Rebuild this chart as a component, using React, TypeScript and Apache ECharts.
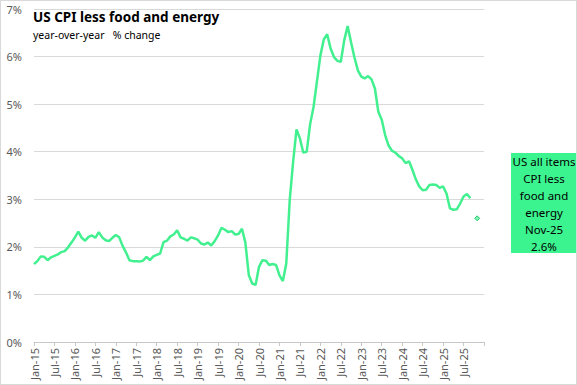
import React, { useEffect, useRef } from "react";
import * as echarts from "echarts";

const monthNames = ["Jan", "Feb", "Mar", "Apr", "May", "Jun", "Jul", "Aug", "Sep", "Oct", "Nov", "Dec"];
const years = [15, 16, 17, 18, 19, 20, 21, 22, 23, 24, 25];

// Core CPI year-over-year % change, by year (Jan..Dec)
const y2015 = [1.64, 1.70, 1.80, 1.79, 1.72, 1.78, 1.81, 1.84, 1.89, 1.91, 1.99, 2.09];
const y2016 = [2.20, 2.32, 2.19, 2.13, 2.21, 2.24, 2.19, 2.31, 2.20, 2.14, 2.12, 2.19];
const y2017 = [2.25, 2.20, 2.02, 1.88, 1.72, 1.70, 1.70, 1.69, 1.71, 1.79, 1.72, 1.80];
const y2018 = [1.83, 1.86, 2.10, 2.13, 2.22, 2.26, 2.35, 2.20, 2.17, 2.13, 2.20, 2.18];
const y2019 = [2.15, 2.07, 2.05, 2.09, 2.03, 2.12, 2.24, 2.40, 2.36, 2.31, 2.33, 2.26];
const y2020 = [2.27, 2.38, 2.09, 1.41, 1.23, 1.20, 1.58, 1.72, 1.71, 1.62, 1.64, 1.62];
const y2021 = [1.40, 1.28, 1.65, 2.97, 3.78, 4.47, 4.28, 3.98, 4.00, 4.58, 4.94, 5.48];
const y2022 = [6.02, 6.36, 6.47, 6.17, 5.99, 5.91, 5.89, 6.34, 6.64, 6.30, 5.98, 5.71];
const y2023 = [5.58, 5.54, 5.59, 5.52, 5.33, 4.84, 4.67, 4.35, 4.13, 4.02, 3.98, 3.91];
const y2024 = [3.86, 3.76, 3.80, 3.62, 3.42, 3.27, 3.19, 3.20, 3.30, 3.31, 3.30, 3.24];
const y2025 = [3.27, 3.12, 2.81, 2.78, 2.79, 2.91, 3.06, 3.11, 3.02, null, null, null];

const latestLabel = "Nov-25";
const latestValue = 2.6;
const extraCategory = "Jan-26";

const yTicks = [0, 1, 2, 3, 4, 5, 6, 7];

const categories: string[] = [];
years.forEach((y) => monthNames.forEach((m) => categories.push(`${m}-${y}`)));
categories.push(extraCategory);

const lineValues: (number | null)[] = [
  ...y2015, ...y2016, ...y2017, ...y2018, ...y2019, ...y2020,
  ...y2021, ...y2022, ...y2023, ...y2024, ...y2025, null,
];

const latestValues: (number | null)[] = categories.map((c) => (c === latestLabel ? latestValue : null));

const GREEN = "#42F090";
const BOX = "#3CF48F";
const FONT = "'Noto Sans', 'Open Sans', sans-serif";

export default function App() {
  const ref = useRef<HTMLDivElement>(null);
  useEffect(() => {
    if (!ref.current) return;
    const chart = echarts.init(ref.current, undefined, { renderer: "svg" });
    const lastShownLabel = categories.indexOf("Jul-25");
    chart.setOption({
      animation: false,
      backgroundColor: "#ffffff",
      grid: { left: 33, right: 92, top: 8, bottom: 42, containLabel: false },
      xAxis: {
        type: "category",
        data: categories,
        boundaryGap: false,
        axisLine: { show: true, lineStyle: { color: "#c8c8c8", width: 1 } },
        axisTick: {
          show: true,
          length: 4,
          interval: (i: number) => i % 6 === 0,
          lineStyle: { color: "#c8c8c8" },
        },
        axisLabel: {
          rotate: 90,
          interval: (i: number) => i % 6 === 0 && i <= lastShownLabel,
          color: "#595959",
          fontSize: 11,
          fontFamily: FONT,
          margin: 6,
        },
        splitLine: { show: false },
      },
      yAxis: {
        type: "value",
        min: yTicks[0],
        max: yTicks[yTicks.length - 1],
        interval: 1,
        axisLine: { show: false },
        axisTick: { show: false },
        axisLabel: {
          formatter: "{value}%",
          color: "#595959",
          fontSize: 11,
          fontFamily: FONT,
          margin: 12,
        },
        splitLine: { show: true, lineStyle: { color: "#d9d9d9", width: 1 } },
      },
      series: [
        {
          type: "line",
          data: lineValues,
          showSymbol: false,
          symbol: "none",
          connectNulls: false,
          lineStyle: { color: GREEN, width: 2.5 },
          itemStyle: { color: GREEN },
          z: 3,
        },
        {
          type: "line",
          data: latestValues,
          symbol: "diamond",
          symbolSize: 5,
          showSymbol: true,
          showAllSymbol: true,
          lineStyle: { width: 0 },
          itemStyle: { color: "#7CF5B0", borderColor: "#2DC873", borderWidth: 1 },
          z: 4,
        },
      ],
      graphic: [
        {
          type: "text",
          left: 32,
          top: 9,
          style: {
            text: "US CPI less food and energy",
            font: `bold 13.5px ${FONT}`,
            fill: "#000000",
          },
          z: 10,
        },
        {
          type: "text",
          left: 32,
          top: 28,
          style: {
            text: "year-over-year   % change",
            font: `10.5px ${FONT}`,
            fill: "#000000",
          },
          z: 10,
        },
        {
          type: "group",
          left: 510,
          top: 152,
          children: [
            {
              type: "rect",
              shape: { x: 0, y: 0, width: 66, height: 100 },
              style: { fill: BOX },
            },
            {
              type: "text",
              x: 33,
              y: 51,
              style: {
                text: `US all items\nCPI less\nfood and\nenergy\n${latestLabel}\n${latestValue.toFixed(1)}%`,
                font: `11.5px ${FONT}`,
                lineHeight: 17,
                fill: "#000000",
                align: "center",
                verticalAlign: "middle",
              },
            },
          ],
        },
      ],
    });
    return () => chart.dispose();
  }, []);
  return (
    <div
      style={{
        position: "absolute",
        left: 0,
        top: 0,
        width: 577,
        height: 385,
        border: "1px solid #d9d9d9",
        boxSizing: "border-box",
        background: "#fff",
      }}
    >
      <div ref={ref} style={{ width: 575, height: 383 }} />
    </div>
  );
}
